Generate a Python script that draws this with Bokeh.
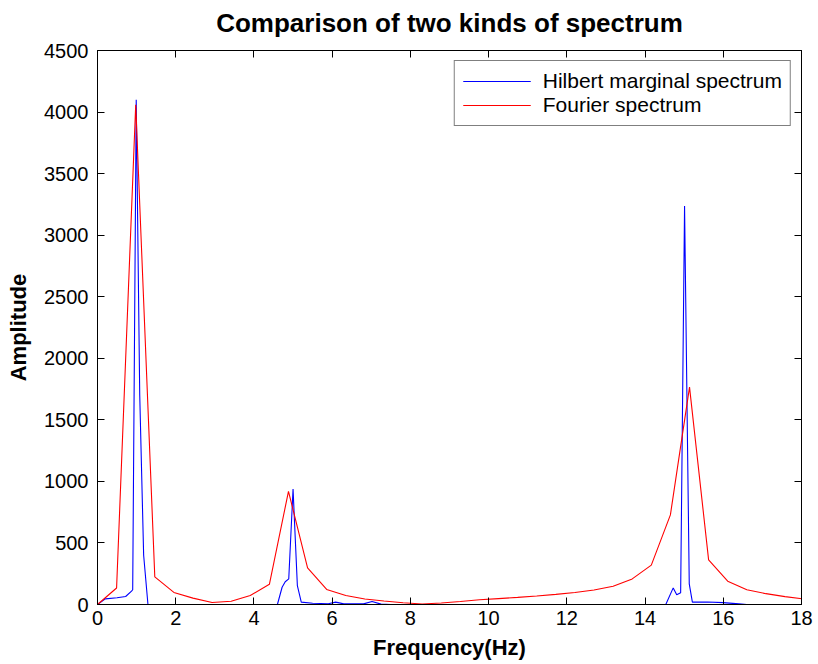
from bokeh.plotting import figure
from bokeh.models import LinearAxis, FixedTicker, Legend, LegendItem, Range1d, CustomLabelingPolicy
from bokeh.embed import file_html
from bokeh.resources import INLINE

# Hilbert marginal spectrum (blue)
hilbert_freq = [0.0, 0.2, 0.5, 0.72, 0.87, 0.9, 0.99, 1.08, 1.18, 1.29,
                4.6, 4.72, 4.8, 4.89, 5.0, 5.11, 5.21, 5.5, 5.9, 6.09, 6.3, 6.8, 7.02, 7.25, 7.5,
                14.53, 14.72, 14.81, 14.91, 15.01, 15.13, 15.21, 15.6, 16.0, 16.4, 16.6, 18.0]
hilbert_amp = [0, 46, 55, 65, 108, 120, 4100, 1700, 400, 0,
               0, 140, 185, 208, 938, 154, 19, 10, 6, 19, 5, 5, 25, 3, 0,
               0, 135, 79, 95, 3236, 168, 19, 20, 15, 5, 0, 0]

# Fourier spectrum (red)
fourier_freq = [0.0, 0.488, 0.977, 1.465, 1.953, 2.441, 2.930, 3.418, 3.906, 4.395,
                4.883, 5.371, 5.859, 6.348, 6.836, 7.324, 7.813, 8.301, 8.789, 9.277,
                9.766, 10.254, 10.742, 11.230, 11.719, 12.207, 12.695, 13.184, 13.672, 14.160,
                14.648, 15.137, 15.625, 16.113, 16.602, 17.090, 17.578, 18.066]
fourier_amp = [0, 134, 4060, 224, 98, 52, 16, 26, 73, 164,
               919, 297, 122, 73, 45, 28, 14, 4, 12, 24,
               38, 48, 58, 69, 82, 98, 118, 148, 208, 320,
               728, 1766, 362, 189, 120, 88, 64, 44]

x_ticks = [0, 2, 4, 6, 8, 10, 12, 14, 16, 18]
y_ticks = [0, 500, 1000, 1500, 2000, 2500, 3000, 3500, 4000, 4500]

FONT = "Liberation Sans"

p = figure(width=818, height=664, output_backend="svg", toolbar_location=None,
           x_range=Range1d(0, 18), y_range=Range1d(0, 4500),
           min_border_left=97, min_border_right=17, min_border_top=49, min_border_bottom=60)
p.background_fill_color = "white"
p.border_fill_color = "white"
p.outline_line_color = "black"
p.grid.visible = False

p.title.text = "Comparison of two kinds of spectrum"
p.title.text_font = FONT
p.title.text_font_size = "26px"
p.title.text_font_style = "bold"
p.title.align = "center"
p.title.text_color = "black"
p.title.standoff = 14
p.title.vertical_align = "top"

hide_all = CustomLabelingPolicy(code="""
    for (const i of indices)
        indices.unset(i)
    return indices
""")

def style_axis(ax, ticks, show_labels):
    ax.ticker = FixedTicker(ticks=ticks)
    ax.major_tick_in = 7
    ax.major_tick_out = 0
    ax.minor_tick_line_color = None
    ax.axis_line_color = "black"
    ax.major_tick_line_color = "black"
    ax.major_label_text_font = FONT
    ax.major_label_text_color = "black"
    if show_labels:
        ax.major_label_text_font_size = "20px"
    else:
        ax.major_label_policy = hide_all
        ax.major_label_text_font_size = "1px"
        ax.major_label_standoff = 0

xa = p.xaxis[0]
ya = p.yaxis[0]
style_axis(xa, x_ticks, True)
style_axis(ya, y_ticks, True)
xa.major_label_standoff = 6
ya.major_label_standoff = 9
xa.axis_label = "Frequency(Hz)"
ya.axis_label = "Amplitude"
for ax in (xa, ya):
    ax.axis_label_text_font = FONT
    ax.axis_label_text_font_size = "22px"
    ax.axis_label_text_font_style = "bold"
    ax.axis_label_text_color = "black"
xa.axis_label_standoff = 7
ya.axis_label_standoff = 10

top_ax = LinearAxis()
style_axis(top_ax, x_ticks, False)
right_ax = LinearAxis()
style_axis(right_ax, y_ticks, False)
p.add_layout(top_ax, "above")
p.add_layout(right_ax, "right")

r_h = p.line(hilbert_freq, hilbert_amp, line_color="#0000ff", line_width=1.1)
r_f = p.line(fourier_freq, fourier_amp, line_color="#ff0000", line_width=1.1)

legend = Legend(items=[LegendItem(label="Hilbert marginal spectrum", renderers=[r_h]),
                       LegendItem(label="Fourier spectrum", renderers=[r_f])],
                location="top_right")
legend.label_text_font = FONT
legend.label_text_font_size = "21px"
legend.label_text_color = "black"
legend.glyph_width = 68
legend.glyph_height = 18
legend.label_height = 18
legend.label_standoff = 12
legend.spacing = 0
legend.padding = 8
legend.margin = 10
legend.border_line_color = "black"
legend.border_line_width = 1
legend.background_fill_color = "white"
legend.background_fill_alpha = 1
p.add_layout(legend)

open("out.html", "w").write(file_html(p, INLINE))
